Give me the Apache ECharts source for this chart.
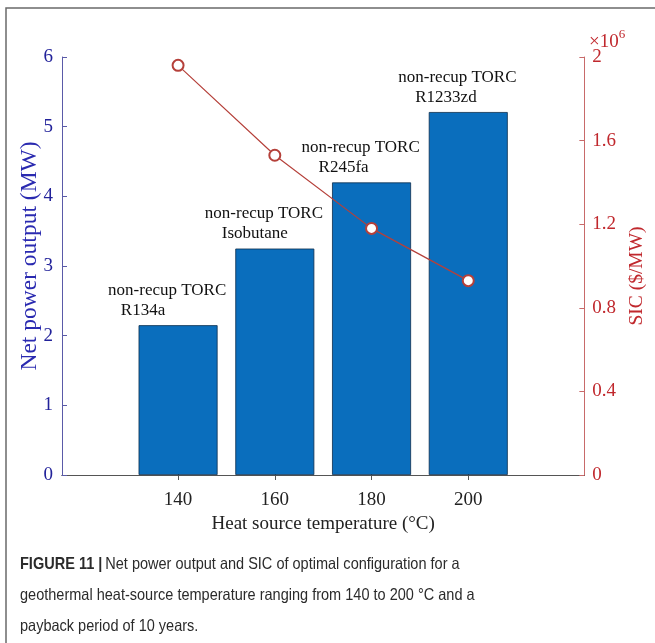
<!DOCTYPE html>
<html>
<head>
<meta charset="utf-8">
<script src="https://cdn.jsdelivr.net/npm/echarts@6/dist/echarts.min.js"></script>
<style>
  html, body { margin: 0; padding: 0; background: #ffffff; }
  #chart { width: 655px; height: 643px; }
</style>
</head>
<body>
<div id="chart"></div>
<script>
// Heat-source temperatures (°C) on the x axis
const temperatures = [140, 160, 180, 200];
// Net power output of the optimal configuration (MW)
const netPower = [2.15, 3.25, 4.20, 5.21];
// Specific investment cost ($/MW)
const sic = [1.96e6, 1.53e6, 1.18e6, 0.93e6];
// Configuration / working fluid written above each bar
const configNames = [
  'non-recup TORC\n   R134a',
  'non-recup TORC\n    Isobutane',
  'non-recup TORC\n    R245fa',
  'non-recup TORC\n    R1233zd'
];
// Caption lines under the chart
const captionLines = [
  'Net power output and SIC of optimal configuration for a',
  'geothermal heat-source temperature ranging from 140 to 200 \u00B0C and a',
  'payback period of 10 years.'
];

const serif = '"Liberation Serif", "Times New Roman", serif';
const sans = '"Liberation Sans", Arial, sans-serif';
const leftBlue = '#22229a';
const rightRed = '#c0282d';

const chart = echarts.init(document.getElementById('chart'), null, { renderer: 'canvas' });

const xBase = {
  type: 'value',
  min: 116,
  max: 224,
  splitLine: { show: false },
  axisLine: { show: true, lineStyle: { color: '#555555', width: 1 } }
};

chart.setOption({
  animation: false,
  backgroundColor: '#ffffff',
  grid: { left: 62, right: 67, top: 57, bottom: 168 },
  xAxis: [
    Object.assign({}, xBase, {
      position: 'bottom',
      name: 'Heat source temperature (\u00B0C)',
      nameLocation: 'middle',
      nameGap: 33,
      nameTextStyle: { fontFamily: serif, fontSize: 19, color: '#222222' },
      axisTick: { show: true, inside: true, length: 5, customValues: temperatures, lineStyle: { color: '#555555' } },
      axisLabel: { show: true, customValues: temperatures, fontFamily: serif, fontSize: 19, color: '#222222', margin: 16 }
    }),
    Object.assign({}, xBase, {
      position: 'top',
      axisTick: { show: true, inside: true, length: 5, customValues: temperatures, lineStyle: { color: '#555555' } },
      axisLabel: { show: false }
    })
  ],
  yAxis: [
    {
      type: 'value',
      position: 'left',
      min: 0,
      max: 6,
      interval: 1,
      name: 'Net power output (MW)',
      nameLocation: 'middle',
      nameGap: 20,
      nameMoveOverlap: false,
      nameTextStyle: { fontFamily: serif, fontSize: 23.5, color: '#2a2ab0', padding: [0, 0, 0, 20] },
      axisLine: { show: true, lineStyle: { color: '#5a5aa8', width: 1 } },
      axisTick: { show: true, inside: true, length: 5, lineStyle: { color: '#5a5aa8' } },
      axisLabel: { fontFamily: serif, fontSize: 19, color: leftBlue, margin: 9 },
      splitLine: { show: false }
    },
    {
      type: 'value',
      position: 'right',
      min: 0,
      max: 2e6,
      interval: 0.4e6,
      name: 'SIC ($/MW)',
      nameLocation: 'middle',
      nameGap: 42,
      nameTextStyle: { fontFamily: serif, fontSize: 19.5, color: rightRed, padding: [0, 20, 0, 0] },
      axisLine: { show: true, lineStyle: { color: '#c86a6a', width: 1 } },
      axisTick: { show: true, inside: true, length: 5, lineStyle: { color: '#c86a6a' } },
      axisLabel: {
        fontFamily: serif, fontSize: 19, color: rightRed, margin: 8,
        formatter: v => String(Math.round(v / 1e5) / 10)
      },
      splitLine: { show: false }
    }
  ],
  series: [
    {
      type: 'bar',
      xAxisIndex: 0,
      yAxisIndex: 0,
      barWidth: 79,
      data: temperatures.map((t, i) => [t, netPower[i]]),
      itemStyle: { color: '#0a6ebd', borderColor: '#0c2d4d', borderWidth: 0.8 },
      label: {
        show: true,
        position: 'top',
        align: 'left',
        distance: 5,
        offset: [-70, 0],
        fontFamily: serif,
        fontSize: 17,
        lineHeight: 20,
        color: '#111111',
        formatter: p => configNames[p.dataIndex]
      },
      z: 2
    },
    {
      type: 'line',
      xAxisIndex: 0,
      yAxisIndex: 1,
      data: temperatures.map((t, i) => [t, sic[i]]),
      symbol: 'emptyCircle',
      symbolSize: 11,
      lineStyle: { color: '#b5403a', width: 1.2 },
      itemStyle: { color: '#b5403a', borderColor: '#c0342f', borderWidth: 1.2 },
      z: 5
    }
  ],
  graphic: [
    {
      type: 'polyline',
      shape: { points: [[6, 643], [6, 8], [655, 8]] },
      style: { stroke: '#6a6a6a', lineWidth: 1.5, fill: null },
      silent: true
    },
    {
      type: 'text',
      left: 589,
      top: 28,
      style: {
        text: '{m|\u00D710}{s|6}',
        rich: {
          m: { fontFamily: serif, fontSize: 19, fill: rightRed, verticalAlign: 'bottom', lineHeight: 24 },
          s: { fontFamily: serif, fontSize: 13, fill: rightRed, verticalAlign: 'top', lineHeight: 24, padding: [0, 0, 9, 0] }
        }
      }
    },
    {
      type: 'text',
      left: 20,
      top: 556,
      scaleX: 0.88,
      style: {
        text: '{b|FIGURE 11 |} {n|' + captionLines[0] + '}\n{n|' + captionLines[1] + '}\n{n|' + captionLines[2] + '}',
        rich: {
          b: { fontFamily: sans, fontSize: 16.5, fontWeight: 'bold', fill: '#2b2b2b', lineHeight: 31 },
          n: { fontFamily: sans, fontSize: 16.5, fill: '#2b2b2b', lineHeight: 31 }
        }
      }
    }
  ]
});
</script>
</body>
</html>
